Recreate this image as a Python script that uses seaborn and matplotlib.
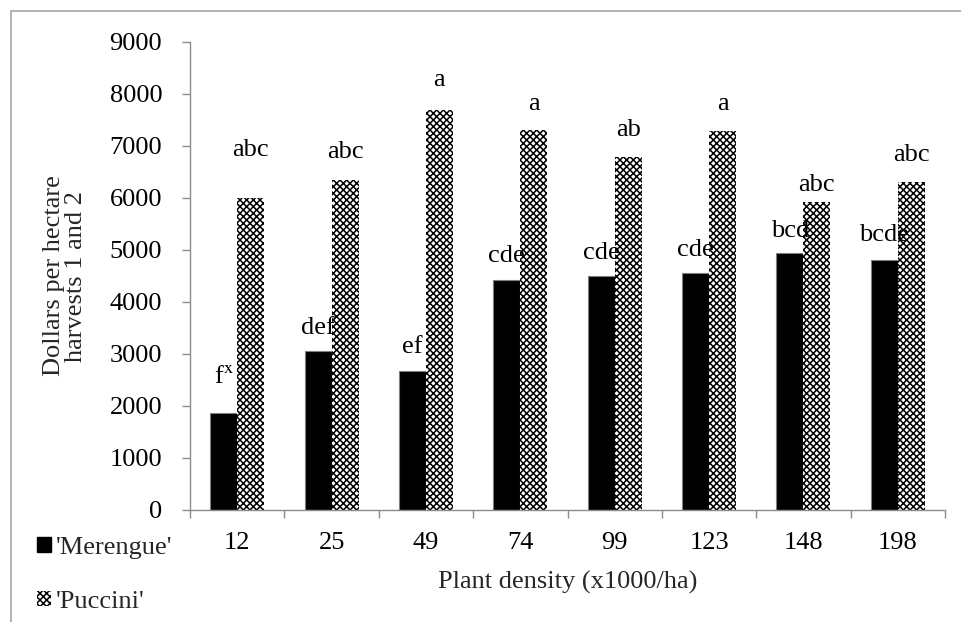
import matplotlib
matplotlib.use("Agg")
import matplotlib.pyplot as plt
import seaborn as sns
import pandas as pd
import numpy as np
from matplotlib.patches import Patch, Rectangle

densities = ["12", "25", "49", "74", "99", "123", "148", "198"]
merengue = [1870, 3050, 2680, 4430, 4500, 4550, 4950, 4800]
puccini = [6000, 6350, 7700, 7300, 6780, 7280, 5920, 6300]
merengue_letters = ["f$^{\\mathrm{x}}$", "def", "ef", "cde", "cde", "cde", "bcd", "bcde"]
puccini_letters = ["abc", "abc", "a", "a", "ab", "a", "abc", "abc"]
# label offsets above bar tops (data units)
merengue_lab_off = [680, 450, 450, 450, 450, 450, 420, 480]
puccini_lab_off = [920, 540, 570, 510, 530, 530, 330, 530]

FS = 19

sns.set_theme(style="white")
plt.rcParams["font.family"] = ["Liberation Serif", "DejaVu Serif"]
plt.rcParams["mathtext.fontset"] = "stix"
plt.rcParams["hatch.linewidth"] = 1.1

df = pd.DataFrame({
    "density": densities * 2,
    "value": merengue + puccini,
    "cultivar": ["'Merengue'"] * 8 + ["'Puccini'"] * 8,
})

fig = plt.figure(figsize=(9.61, 6.22), dpi=100)
ax = fig.add_axes([190 / 961, 1 - 510 / 622, (945 - 190) / 961, (510 - 42) / 622])

sns.barplot(data=df, x="density", y="value", hue="cultivar", order=densities,
            hue_order=["'Merengue'", "'Puccini'"],
            palette={"'Merengue'": "black", "'Puccini'": "white"},
            width=0.572, gap=0, legend=False, ax=ax, errorbar=None, saturation=1)

patches = ax.patches
for p in patches[:8]:
    p.set_edgecolor("#7f7f7f")
    p.set_linewidth(0.8)
for p in patches[8:16]:
    p.set_facecolor("white")
    p.set_edgecolor("black")
    p.set_hatch("xxxxx")
    p.set_linewidth(0)

for i, p in enumerate(patches[:8]):
    cx = p.get_x() + p.get_width() / 2
    ax.text(cx, p.get_height() + merengue_lab_off[i], merengue_letters[i],
            ha="center", va="center", fontsize=FS, color="black")
for i, p in enumerate(patches[8:16]):
    cx = p.get_x() + p.get_width() / 2
    ax.text(cx, p.get_height() + puccini_lab_off[i], puccini_letters[i],
            ha="center", va="center", fontsize=FS, color="black")

ax.set_ylim(0, 9000)
ax.set_yticks(np.arange(0, 9001, 1000))
ax.set_xlim(-0.5, 7.5)
ax.set_xticks(range(8))
ax.set_xticklabels(densities)
ax.set_xticks(np.arange(-0.5, 8.0, 1.0), minor=True)
ax.tick_params(axis="x", which="major", length=0, labelsize=FS, pad=16, colors="black")
ax.tick_params(axis="x", which="minor", length=6, width=1, color="#8c8c8c", direction="out", bottom=True)
ax.tick_params(axis="y", which="major", length=6, width=1, color="#8c8c8c", direction="out",
               labelsize=FS, pad=14, left=True, labelcolor="black")

for s in ["top", "right"]:
    ax.spines[s].set_visible(False)
for s in ["left", "bottom"]:
    ax.spines[s].set_color("#8c8c8c")
    ax.spines[s].set_linewidth(1)

ax.set_xlabel("Plant density (x1000/ha)", fontsize=FS, labelpad=12)
ax.set_ylabel("Dollars per hectare\nharvests 1 and 2", fontsize=FS, labelpad=16, linespacing=1.0)

handles = [Patch(facecolor="black", edgecolor="black", label="'Merengue'"),
           Patch(facecolor="white", edgecolor="black", hatch="xxxxx", linewidth=0, label="'Puccini'")]
fig.legend(handles=handles, loc="upper left", bbox_to_anchor=(26 / 961, 1 - 526 / 622),
           frameon=False, fontsize=FS, handlelength=0.55, handleheight=0.55,
           handletextpad=0.2, labelspacing=1.2, borderaxespad=0)

fig.patches.append(Rectangle((11 / 961, -0.1), 2, 1.1 - 11 / 622, transform=fig.transFigure,
                             fill=False, edgecolor="#a6a6a6", linewidth=1.2))

fig.savefig("out.png", dpi=100)
